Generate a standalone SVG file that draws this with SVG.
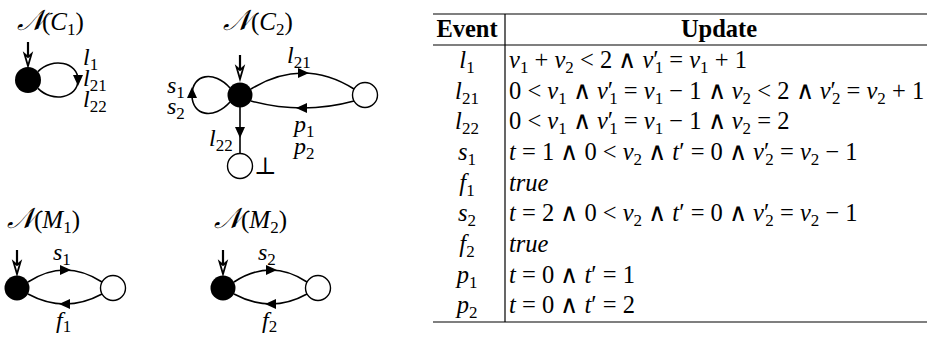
<svg xmlns="http://www.w3.org/2000/svg" width="928" height="340" viewBox="0 0 928 340" font-family="'Liberation Serif', 'Times New Roman', 'DejaVu Serif', serif">
<style>
text{font-size:24.5px;fill:#000}
.i{font-style:italic}
.s{font-size:17px;font-style:normal}
.b{font-weight:bold}
.lab{font-size:24px}
.ttl{font-size:25px}
.cal{font-family:'DejaVu Sans','Noto Sans',sans-serif;font-style:italic;font-size:29px}
.w{font-family:'DejaVu Sans','Noto Sans',sans-serif;font-weight:200}
.edge{fill:none;stroke:#000;stroke-width:1.6}
.open{fill:#fff;stroke:#000;stroke-width:1.4}
.fill{fill:#000}
.init{fill:#fff;stroke:#000;stroke-width:1.8;stroke-linejoin:miter}
.rule{stroke:#000;stroke-width:1.2}
</style>
<defs>
<polygon id="ar" points="6,0 -5,-5 -5,5"/>
<g id="ini"><line x1="0" y1="0" x2="0" y2="14" stroke="#000" stroke-width="2.2"/><polygon class="init" points="-3.5,12 0,24 3.5,12 0,15"/></g>
</defs>

<g id="C1">
<text class="ttl" x="17" y="30"><tspan class="cal">𝒩</tspan><tspan x="42">(</tspan><tspan class="i">C</tspan><tspan class="s" dy="5">1</tspan><tspan dy="-5">)</tspan></text>
<circle cx="28" cy="80" r="13" class="fill"/>
<use href="#ini" x="28" y="42"/>
<text class="lab" x="83" y="65"><tspan class="i">l</tspan><tspan class="s" dy="5">1</tspan></text>
<text class="lab" x="83" y="86"><tspan class="i">l</tspan><tspan class="s" dy="5">21</tspan></text>
<text class="lab" x="83" y="107"><tspan class="i">l</tspan><tspan class="s" dy="5">22</tspan></text>
</g>

<g id="C2">
<text class="ttl" x="223" y="30"><tspan class="cal">𝒩</tspan><tspan x="251">(</tspan><tspan class="i">C</tspan><tspan class="s" dy="5">2</tspan><tspan dy="-5">)</tspan></text>
<circle cx="240" cy="95" r="12.5" class="fill"/>
<use href="#ini" x="240" y="55"/>
<text class="lab" x="167" y="93"><tspan class="i">s</tspan><tspan class="s" dy="5">1</tspan></text>
<text class="lab" x="167" y="114"><tspan class="i">s</tspan><tspan class="s" dy="5">2</tspan></text>
<text class="lab" x="287" y="63"><tspan class="i">l</tspan><tspan class="s" dy="5">21</tspan></text>
<text class="lab" x="294" y="132"><tspan class="i">p</tspan><tspan class="s" dy="5">1</tspan></text>
<text class="lab" x="294" y="154"><tspan class="i">p</tspan><tspan class="s" dy="5">2</tspan></text>
<text class="lab" x="209" y="146"><tspan class="i">l</tspan><tspan class="s" dy="5">22</tspan></text>
<text class="lab" x="254" y="174">⊥</text>
</g>
<g id="C2_right"><circle cx="365" cy="95" r="12.5" class="open"/></g>
<g id="C2_bottom"><circle cx="240" cy="166" r="12.5" class="open"/></g>

<g id="M1">
<text class="ttl" x="7" y="228"><tspan class="cal">𝒩</tspan><tspan x="34">(</tspan><tspan class="i">M</tspan><tspan class="s" dy="5">1</tspan><tspan dy="-5">)</tspan></text>
<circle cx="17" cy="288" r="12.5" class="fill"/>
<use href="#ini" x="17" y="250"/>
<text class="lab" x="53" y="260"><tspan class="i">s</tspan><tspan class="s" dy="5">1</tspan></text>
<text class="lab" x="56" y="328"><tspan class="i">f</tspan><tspan class="s" dy="4">1</tspan></text>
</g>
<g id="M1_s"><circle cx="113" cy="288" r="12.5" class="open"/></g>

<g id="M2">
<text class="ttl" x="214" y="228"><tspan class="cal">𝒩</tspan><tspan x="241">(</tspan><tspan class="i">M</tspan><tspan class="s" dy="5">2</tspan><tspan dy="-5">)</tspan></text>
<circle cx="223" cy="288" r="12.5" class="fill"/>
<use href="#ini" x="223" y="250"/>
<text class="lab" x="258" y="260"><tspan class="i">s</tspan><tspan class="s" dy="5">2</tspan></text>
<text class="lab" x="262" y="328"><tspan class="i">f</tspan><tspan class="s" dy="4">2</tspan></text>
</g>
<g id="M2_s"><circle cx="318" cy="288" r="12.5" class="open"/></g>

<g id="connectors">
<path class="edge" d="M38,71.6 C52,57 78,62 78,80 C78,98 52,103 38,88.4"/>
<use href="#ar" transform="translate(78,80) rotate(90)"/>
<path class="edge" d="M251,89 Q303,57 354,89"/>
<use href="#ar" transform="translate(303,73) rotate(0)"/>
<path class="edge" d="M354,101 Q303,115 251,101"/>
<use href="#ar" transform="translate(302,108) rotate(180)"/>
<path class="edge" d="M230,88 C214,70 192,74 192,95 C192,116 214,120 230,102"/>
<use href="#ar" transform="translate(192,93) rotate(-90)"/>
<line class="edge" x1="240" y1="107" x2="240" y2="153.5"/>
<use href="#ar" transform="translate(240,132) rotate(90)"/>
<path class="edge" d="M28,282 Q65,258 102,282"/>
<use href="#ar" transform="translate(65,270) rotate(0)"/>
<path class="edge" d="M102,294 Q65,314 28,294"/>
<use href="#ar" transform="translate(65,304) rotate(180)"/>
<path class="edge" d="M234,282 Q271,258 307,282"/>
<use href="#ar" transform="translate(271,270) rotate(0)"/>
<path class="edge" d="M307,294 Q271,314 234,294"/>
<use href="#ar" transform="translate(271,304) rotate(180)"/>
</g>

<g id="table">
<line class="rule" x1="433" y1="14" x2="927" y2="14"/>
<line class="rule" x1="433" y1="45" x2="927" y2="45" stroke-width="1"/>
<line class="rule" x1="433" y1="322" x2="927" y2="322"/>
<line class="rule" x1="505" y1="14" x2="505" y2="322" stroke-width="1"/>
<text class="b" x="467" y="37" text-anchor="middle">Event</text>
<text class="b" x="719" y="37" text-anchor="middle">Update</text>
<g text-anchor="middle">
<text x="467" y="68"><tspan class="i">l</tspan><tspan class="s" dy="5">1</tspan></text>
<text x="467" y="99"><tspan class="i">l</tspan><tspan class="s" dy="5">21</tspan></text>
<text x="467" y="129"><tspan class="i">l</tspan><tspan class="s" dy="5">22</tspan></text>
<text x="467" y="160"><tspan class="i">s</tspan><tspan class="s" dy="5">1</tspan></text>
<text x="467" y="191"><tspan class="i">f</tspan><tspan class="s" dy="5">1</tspan></text>
<text x="467" y="221"><tspan class="i">s</tspan><tspan class="s" dy="5">2</tspan></text>
<text x="467" y="252"><tspan class="i">f</tspan><tspan class="s" dy="5">2</tspan></text>
<text x="467" y="283"><tspan class="i">p</tspan><tspan class="s" dy="5">1</tspan></text>
<text x="467" y="313"><tspan class="i">p</tspan><tspan class="s" dy="5">2</tspan></text>
</g>
<text x="509" y="68"><tspan class="i">v</tspan><tspan class="s" dy="5">1</tspan><tspan dy="-5"> + </tspan><tspan class="i">v</tspan><tspan class="s" dy="5">2</tspan><tspan dy="-5"> &lt; 2 </tspan><tspan class="w">∧</tspan><tspan> </tspan><tspan class="i">v</tspan><tspan>′</tspan><tspan class="s" dx="-4" dy="5">1</tspan><tspan dy="-5"> = </tspan><tspan class="i">v</tspan><tspan class="s" dy="5">1</tspan><tspan dy="-5"> + 1</tspan></text>
<text x="509" y="99"><tspan>0 &lt; </tspan><tspan class="i">v</tspan><tspan class="s" dy="5">1</tspan><tspan dy="-5"> </tspan><tspan class="w">∧</tspan><tspan> </tspan><tspan class="i">v</tspan><tspan>′</tspan><tspan class="s" dx="-4" dy="5">1</tspan><tspan dy="-5"> = </tspan><tspan class="i">v</tspan><tspan class="s" dy="5">1</tspan><tspan dy="-5"> − 1 </tspan><tspan class="w">∧</tspan><tspan> </tspan><tspan class="i">v</tspan><tspan class="s" dy="5">2</tspan><tspan dy="-5"> &lt; 2 </tspan><tspan class="w">∧</tspan><tspan> </tspan><tspan class="i">v</tspan><tspan>′</tspan><tspan class="s" dx="-4" dy="5">2</tspan><tspan dy="-5"> = </tspan><tspan class="i">v</tspan><tspan class="s" dy="5">2</tspan><tspan dy="-5"> + 1</tspan></text>
<text x="509" y="129"><tspan>0 &lt; </tspan><tspan class="i">v</tspan><tspan class="s" dy="5">1</tspan><tspan dy="-5"> </tspan><tspan class="w">∧</tspan><tspan> </tspan><tspan class="i">v</tspan><tspan>′</tspan><tspan class="s" dx="-4" dy="5">1</tspan><tspan dy="-5"> = </tspan><tspan class="i">v</tspan><tspan class="s" dy="5">1</tspan><tspan dy="-5"> − 1 </tspan><tspan class="w">∧</tspan><tspan> </tspan><tspan class="i">v</tspan><tspan class="s" dy="5">2</tspan><tspan dy="-5"> = 2</tspan></text>
<text x="509" y="160"><tspan class="i">t</tspan><tspan> = 1 </tspan><tspan class="w">∧</tspan><tspan> 0 &lt; </tspan><tspan class="i">v</tspan><tspan class="s" dy="5">2</tspan><tspan dy="-5"> </tspan><tspan class="w">∧</tspan><tspan> </tspan><tspan class="i">t</tspan><tspan>′ = 0 </tspan><tspan class="w">∧</tspan><tspan> </tspan><tspan class="i">v</tspan><tspan>′</tspan><tspan class="s" dx="-4" dy="5">2</tspan><tspan dy="-5"> = </tspan><tspan class="i">v</tspan><tspan class="s" dy="5">2</tspan><tspan dy="-5"> − 1</tspan></text>
<text x="509" y="191" class="i">true</text>
<text x="509" y="221"><tspan class="i">t</tspan><tspan> = 2 </tspan><tspan class="w">∧</tspan><tspan> 0 &lt; </tspan><tspan class="i">v</tspan><tspan class="s" dy="5">2</tspan><tspan dy="-5"> </tspan><tspan class="w">∧</tspan><tspan> </tspan><tspan class="i">t</tspan><tspan>′ = 0 </tspan><tspan class="w">∧</tspan><tspan> </tspan><tspan class="i">v</tspan><tspan>′</tspan><tspan class="s" dx="-4" dy="5">2</tspan><tspan dy="-5"> = </tspan><tspan class="i">v</tspan><tspan class="s" dy="5">2</tspan><tspan dy="-5"> − 1</tspan></text>
<text x="509" y="252" class="i">true</text>
<text x="509" y="283"><tspan class="i">t</tspan><tspan> = 0 </tspan><tspan class="w">∧</tspan><tspan> </tspan><tspan class="i">t</tspan><tspan>′ = 1</tspan></text>
<text x="509" y="313"><tspan class="i">t</tspan><tspan> = 0 </tspan><tspan class="w">∧</tspan><tspan> </tspan><tspan class="i">t</tspan><tspan>′ = 2</tspan></text>
</g>
</svg>
